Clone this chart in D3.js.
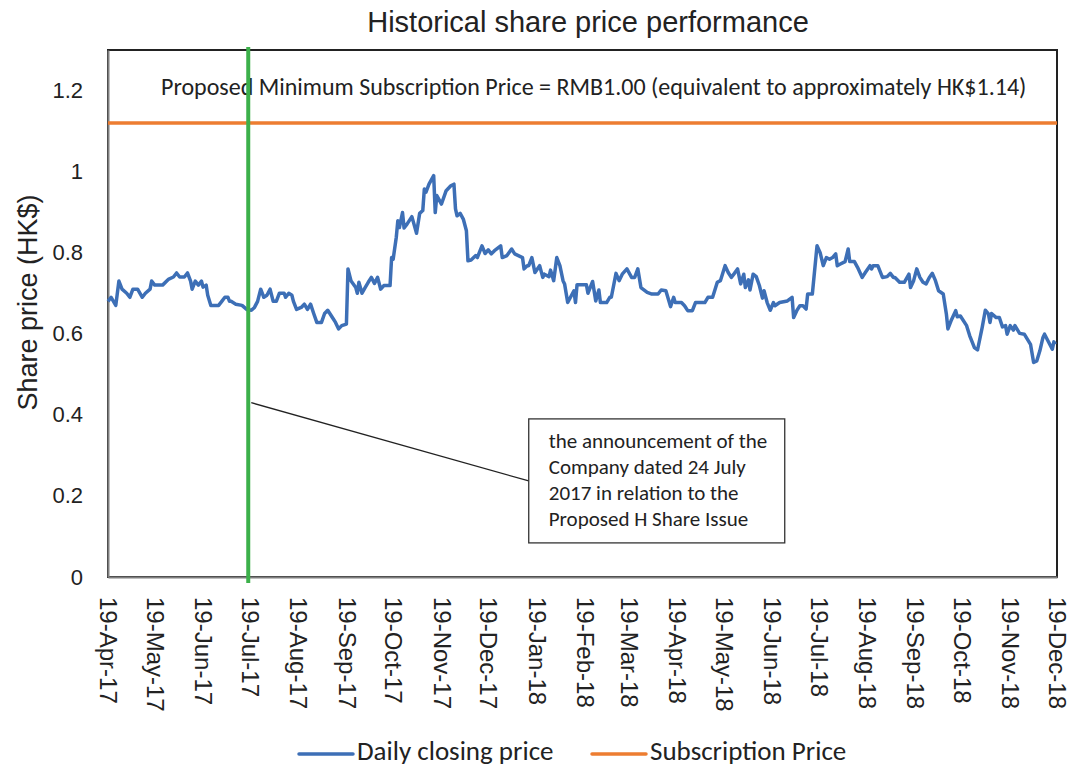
<!DOCTYPE html>
<html>
<head>
<meta charset="utf-8">
<script src="https://cdn.jsdelivr.net/npm/d3@7"></script>
<style>
  body { margin: 0; background: #fff; }
  svg { display: block; }
  .axis-text { font-family: "Liberation Sans", Arial, sans-serif; fill: #222; }
  .note-text { font-family: Carlito, Lato, "Open Sans", sans-serif; fill: #222; }
</style>
</head>
<body>
<div id="chart"></div>
<script>
// daily closing price
const closeDates = [
  "2017-04-19","2017-04-21","2017-04-24","2017-04-26","2017-04-28","2017-05-01","2017-05-03","2017-05-05","2017-05-08","2017-05-11",
  "2017-05-13","2017-05-16","2017-05-17","2017-05-19","2017-05-22","2017-05-24","2017-05-28","2017-05-31","2017-06-02","2017-06-04",
  "2017-06-07","2017-06-09","2017-06-11","2017-06-12","2017-06-14","2017-06-16","2017-06-18","2017-06-19","2017-06-21","2017-06-22",
  "2017-06-24","2017-06-29","2017-07-01","2017-07-03","2017-07-05","2017-07-06","2017-07-07","2017-07-10","2017-07-14","2017-07-17",
  "2017-07-20","2017-07-22","2017-07-24","2017-07-26","2017-07-28","2017-07-30","2017-08-01","2017-08-03","2017-08-05","2017-08-07",
  "2017-08-10","2017-08-11","2017-08-13","2017-08-15","2017-08-16","2017-08-18","2017-08-21","2017-08-23","2017-08-25","2017-08-27",
  "2017-08-29","2017-08-31","2017-09-03","2017-09-05","2017-09-07","2017-09-10","2017-09-12","2017-09-14","2017-09-16","2017-09-19",
  "2017-09-20","2017-09-22","2017-09-25","2017-09-26","2017-09-27","2017-09-29","2017-10-01","2017-10-03","2017-10-05","2017-10-07",
  "2017-10-09","2017-10-11","2017-10-13","2017-10-17","2017-10-18","2017-10-19","2017-10-21","2017-10-22","2017-10-23","2017-10-25",
  "2017-10-26","2017-10-28","2017-10-31","2017-11-03","2017-11-05","2017-11-07","2017-11-08","2017-11-09","2017-11-11","2017-11-14",
  "2017-11-15","2017-11-16","2017-11-19","2017-11-22","2017-11-25","2017-11-27","2017-11-28","2017-11-29","2017-12-01","2017-12-03",
  "2017-12-05","2017-12-06","2017-12-08","2017-12-11","2017-12-12","2017-12-15","2017-12-17","2017-12-19","2017-12-21","2017-12-23",
  "2017-12-27","2017-12-28","2017-12-31","2018-01-03","2018-01-05","2018-01-10","2018-01-11","2018-01-13","2018-01-14","2018-01-16",
  "2018-01-18","2018-01-21","2018-01-23","2018-01-24","2018-01-27","2018-01-28","2018-01-30","2018-02-01","2018-02-03","2018-02-05",
  "2018-02-06","2018-02-08","2018-02-12","2018-02-13","2018-02-14","2018-02-20","2018-02-21","2018-02-24","2018-02-26","2018-02-28",
  "2018-03-01","2018-03-05","2018-03-07","2018-03-08","2018-03-11","2018-03-13","2018-03-15","2018-03-18","2018-03-21","2018-03-23",
  "2018-03-25","2018-03-27","2018-03-31","2018-04-03","2018-04-07","2018-04-09","2018-04-12","2018-04-15","2018-04-17","2018-04-18",
  "2018-04-22","2018-04-24","2018-04-26","2018-04-29","2018-05-01","2018-05-07","2018-05-09","2018-05-12","2018-05-15","2018-05-17",
  "2018-05-20","2018-05-22","2018-05-24","2018-05-26","2018-05-28","2018-05-30","2018-06-01","2018-06-02","2018-06-04","2018-06-05",
  "2018-06-07","2018-06-09","2018-06-11","2018-06-13","2018-06-14","2018-06-16","2018-06-18","2018-06-20","2018-06-21","2018-06-24",
  "2018-06-29","2018-07-02","2018-07-03","2018-07-05","2018-07-07","2018-07-09","2018-07-11","2018-07-12","2018-07-15","2018-07-18",
  "2018-07-20","2018-07-22","2018-07-24","2018-07-26","2018-07-28","2018-07-30","2018-07-31","2018-08-02","2018-08-05","2018-08-07",
  "2018-08-08","2018-08-11","2018-08-13","2018-08-16","2018-08-18","2018-08-21","2018-08-22","2018-08-23","2018-08-26","2018-08-29",
  "2018-09-01","2018-09-03","2018-09-05","2018-09-06","2018-09-09","2018-09-12","2018-09-15","2018-09-16","2018-09-18","2018-09-20",
  "2018-09-22","2018-09-24","2018-09-26","2018-09-28","2018-09-30","2018-10-02","2018-10-04","2018-10-07","2018-10-09","2018-10-10",
  "2018-10-12","2018-10-15","2018-10-16","2018-10-18","2018-10-22","2018-10-24","2018-10-27","2018-10-29","2018-11-01","2018-11-03",
  "2018-11-05","2018-11-06","2018-11-07","2018-11-10","2018-11-12","2018-11-14","2018-11-16","2018-11-17","2018-11-19","2018-11-21",
  "2018-11-22","2018-11-25","2018-11-28","2018-12-02","2018-12-04","2018-12-06","2018-12-08","2018-12-10","2018-12-11","2018-12-13",
  "2018-12-16","2018-12-17","2018-12-18"
];

const closePrices = [
  0.68,0.69,0.67,0.73,0.71,0.70,0.69,0.71,0.71,0.69,
  0.70,0.71,0.73,0.72,0.72,0.72,0.735,0.74,0.75,0.74,
  0.74,0.75,0.73,0.71,0.73,0.72,0.73,0.715,0.72,0.695,
  0.67,0.67,0.68,0.69,0.69,0.68,0.68,0.673,0.67,0.66,
  0.658,0.665,0.68,0.71,0.69,0.695,0.71,0.68,0.68,0.70,
  0.70,0.69,0.70,0.695,0.68,0.66,0.665,0.673,0.66,0.673,
  0.65,0.628,0.628,0.65,0.658,0.64,0.628,0.612,0.62,0.624,
  0.76,0.73,0.714,0.70,0.727,0.70,0.714,0.727,0.739,0.724,
  0.739,0.71,0.719,0.719,0.788,0.784,0.838,0.879,0.862,0.899,
  0.861,0.871,0.889,0.848,0.897,0.904,0.957,0.949,0.969,0.99,
  0.899,0.941,0.92,0.953,0.965,0.969,0.908,0.891,0.897,0.883,
  0.854,0.78,0.782,0.793,0.788,0.817,0.798,0.807,0.797,0.805,
  0.817,0.788,0.793,0.809,0.797,0.788,0.76,0.768,0.768,0.788,
  0.751,0.768,0.739,0.747,0.741,0.757,0.731,0.788,0.768,0.731,
  0.723,0.677,0.706,0.677,0.721,0.721,0.70,0.729,0.681,0.708,
  0.677,0.677,0.69,0.69,0.749,0.731,0.747,0.76,0.739,0.739,
  0.76,0.714,0.702,0.698,0.698,0.708,0.706,0.667,0.69,0.677,
  0.677,0.669,0.657,0.657,0.677,0.677,0.69,0.69,0.727,0.731,
  0.768,0.751,0.739,0.749,0.76,0.723,0.747,0.714,0.733,0.708,
  0.747,0.741,0.719,0.688,0.706,0.677,0.658,0.677,0.669,0.677,
  0.681,0.69,0.64,0.657,0.669,0.669,0.661,0.698,0.698,0.817,
  0.80,0.768,0.788,0.784,0.788,0.797,0.768,0.772,0.778,0.809,
  0.778,0.778,0.764,0.739,0.751,0.768,0.76,0.768,0.768,0.739,
  0.741,0.749,0.739,0.739,0.727,0.727,0.747,0.714,0.731,0.76,
  0.739,0.727,0.723,0.738,0.749,0.731,0.706,0.698,0.649,0.612,
  0.632,0.657,0.642,0.644,0.62,0.595,0.566,0.56,0.616,0.658,
  0.649,0.628,0.65,0.64,0.64,0.617,0.62,0.599,0.62,0.609,
  0.62,0.601,0.599,0.574,0.529,0.533,0.558,0.591,0.599,0.584,
  0.562,0.58,0.574
];

const subscriptionPrice = 1.12;
const subscriptionNote = "Proposed Minimum Subscription Price = RMB1.00 (equivalent to approximately HK$1.14)";

const xTickDates = [
  "2017-04-19","2017-05-19","2017-06-19","2017-07-19","2017-08-19","2017-09-19","2017-10-19",
  "2017-11-19","2017-12-19","2018-01-19","2018-02-19","2018-03-19","2018-04-19","2018-05-19",
  "2018-06-19","2018-07-19","2018-08-19","2018-09-19","2018-10-19","2018-11-19","2018-12-19"
];
const yTicks = [0, 0.2, 0.4, 0.6, 0.8, 1, 1.2];

const announcementDate = "2017-07-18";
const announcementLines = [
  "the announcement of the",
  "Company dated 24 July",
  "2017 in relation to the",
  "Proposed H Share Issue"
];
const legendItems = ["Daily closing price", "Subscription Price"];

const colors = { close: "#3d6fb6", sub: "#ed7d31", marker: "#3cb04a" };

const width = 1070, height = 767;
const margin = { top: 50, right: 13, bottom: 190, left: 108 };

const parse = d3.utcParse("%Y-%m-%d");
const data = closeDates.map((d, i) => ({ date: parse(d), price: closePrices[i] }));

const svg = d3.select("#chart").append("svg")
  .attr("width", width)
  .attr("height", height);

const x = d3.scaleUtc()
  .domain([parse(xTickDates[0]), parse(xTickDates[xTickDates.length - 1])])
  .range([margin.left, width - margin.right]);

const y = d3.scaleLinear()
  .domain([0, 1.3])
  .range([height - margin.bottom, margin.top]);

// title
svg.append("text")
  .attr("class", "axis-text")
  .attr("x", 588)
  .attr("y", 32)
  .attr("text-anchor", "middle")
  .style("font-size", "29px")
  .text("Historical share price performance");

// plot frame
svg.append("rect")
  .attr("x", x.range()[0])
  .attr("y", y(1.3))
  .attr("width", x.range()[1] - x.range()[0])
  .attr("height", y(0) - y(1.3))
  .attr("fill", "none")
  .attr("stroke", "#222")
  .attr("stroke-width", 2);

// axes
const xAxis = d3.axisBottom(x)
  .tickValues(xTickDates.map(parse))
  .tickFormat(d3.utcFormat("%d-%b-%y"))
  .tickSize(0);

const gx = svg.append("g")
  .attr("transform", `translate(0, ${y(0)})`)
  .call(xAxis);
gx.select(".domain").attr("stroke", "#7f7f7f").attr("stroke-width", 2);
gx.selectAll("text")
  .attr("class", "axis-text")
  .style("font-size", "24px")
  .attr("transform", "rotate(90)")
  .attr("x", 20)
  .attr("y", 0)
  .attr("dy", "0.35em")
  .attr("text-anchor", "start");

const yAxis = d3.axisLeft(y)
  .tickValues(yTicks)
  .tickFormat(d => String(+d.toFixed(1)))
  .tickSize(0)
  .tickPadding(25);

const gy = svg.append("g")
  .attr("transform", `translate(${x.range()[0]}, 0)`)
  .call(yAxis);
gy.select(".domain").attr("stroke", "#7f7f7f").attr("stroke-width", 2);
gy.selectAll("text")
  .attr("class", "axis-text")
  .style("font-size", "22px");

svg.append("text")
  .attr("class", "axis-text")
  .attr("transform", `translate(37, ${(y(0) + y(1.3)) / 2 - 11}) rotate(-90)`)
  .attr("text-anchor", "middle")
  .style("font-size", "27px")
  .text("Share price (HK$)");

// subscription price line
svg.append("line")
  .attr("x1", x.range()[0])
  .attr("x2", x.range()[1])
  .attr("y1", y(subscriptionPrice))
  .attr("y2", y(subscriptionPrice))
  .attr("stroke", colors.sub)
  .attr("stroke-width", 3.5);

svg.append("text")
  .attr("class", "note-text")
  .attr("x", x.range()[0] + 53)
  .attr("y", y(1.2) + 4)
  .style("font-size", "24px")
  .text(subscriptionNote);

// closing price
const line = d3.line()
  .x(d => x(d.date))
  .y(d => y(d.price));

svg.append("path")
  .datum(data)
  .attr("fill", "none")
  .attr("stroke", colors.close)
  .attr("stroke-width", 3.5)
  .attr("stroke-linejoin", "round")
  .attr("d", line);

// announcement marker
const ax = x(parse(announcementDate));
svg.append("line")
  .attr("x1", ax)
  .attr("x2", ax)
  .attr("y1", y(1.3) - 3)
  .attr("y2", y(0) + 6)
  .attr("stroke", colors.marker)
  .attr("stroke-width", 4);

const boxX = x(parse("2018-01-14"));
const boxY = y(0.39);
const boxW = 256, boxH = 124;

svg.append("line")
  .attr("x1", ax + 3)
  .attr("y1", y(0.43))
  .attr("x2", boxX)
  .attr("y2", y(0.237))
  .attr("stroke", "#222")
  .attr("stroke-width", 1.3);

svg.append("rect")
  .attr("x", boxX)
  .attr("y", boxY)
  .attr("width", boxW)
  .attr("height", boxH)
  .attr("fill", "#fff")
  .attr("stroke", "#333")
  .attr("stroke-width", 1.3);

svg.append("g")
  .selectAll("text")
  .data(announcementLines)
  .join("text")
  .attr("class", "note-text")
  .attr("x", boxX + 20)
  .attr("y", (d, i) => boxY + 29 + i * 26)
  .style("font-size", "21px")
  .text(d => d);

// legend
const legend = svg.append("g")
  .attr("transform", `translate(0, ${height - 7})`);

const legendX = [299, 592];
legend.selectAll("g")
  .data(legendItems)
  .join("g")
  .attr("transform", (d, i) => `translate(${legendX[i]}, 0)`)
  .each(function (d, i) {
    const g = d3.select(this);
    g.append("line")
      .attr("x1", 0).attr("x2", 54)
      .attr("y1", -6).attr("y2", -6)
      .attr("stroke", i === 0 ? colors.close : colors.sub)
      .attr("stroke-width", 3.5)
      .attr("stroke-linecap", "round");
    g.append("text")
      .attr("class", "note-text")
      .attr("x", 58)
      .attr("y", 0)
      .style("font-size", "27px")
      .text(d);
  });
</script>
</body>
</html>
